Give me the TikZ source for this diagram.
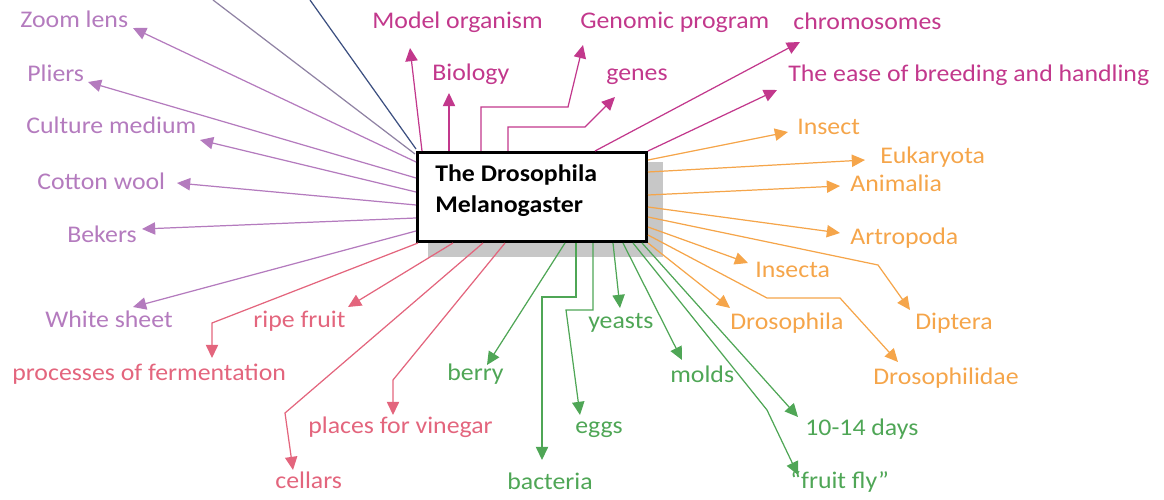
\documentclass[tikz,border=0pt]{standalone}
\usepackage{fontspec}
\setmainfont{Carlito}[FakeStretch=1.08]
\usetikzlibrary{arrows.meta}
\definecolor{lilac}{HTML}{B47BBE}
\definecolor{plum}{HTML}{C2388C}
\definecolor{apricot}{HTML}{F5A54A}
\definecolor{rose}{HTML}{E3657D}
\definecolor{leaf}{HTML}{4FA656}
\definecolor{navy}{HTML}{3C4F80}
\definecolor{haze}{HTML}{8F82A3}
\tikzset{
    lbl/.style={anchor=base west, inner sep=0pt, font=\fontsize{13.6}{16}\selectfont},
    ttl/.style={lbl, font=\fontsize{13.6}{16}\selectfont\bfseries},
    arr/.style={line width=0.7pt, -{Triangle[length=7.5pt,width=7pt]}},
}

\begin{document}
\begin{tikzpicture}[x=0.02cm, y=-0.02cm]
    \useasboundingbox (0,0) rectangle (1164,500);
    % centre box
    \fill[black!22] (428,162) rectangle (663,257);
    \node[draw, line width=1.7pt, fill=white, minimum width=4.58cm, minimum height=1.78cm, inner sep=0pt] (box) at (532,197) {};
    \node[ttl] (title) at (435,182) {The Drosophila};
    \node[ttl] (title2) at (435,213) {Melanogaster};

    % two lines leaving the page
    \coordinate (hz) at (213,0);
    \coordinate (hz-e) at (415,154);
    \coordinate (nv) at (310,0);
    \coordinate (nv-e) at (416,149);
    \draw[haze, line width=0.7pt] (hz) -- (hz-e);
    \draw[navy, line width=0.7pt] (nv) -- (nv-e);

    % straight arrows: name/text/label x/label y/start x/start y/tip x/tip y
    \foreach \n/\t/\lx/\ly/\sx/\sy/\tx/\ty in {
        zoom/Zoom lens/20/28/416/162/133/28,
        pliers/Pliers/27/82/416/178/88/82,
        culture/Culture medium/26/133/416/192/200/140,
        cotton/Cotton wool/37/190/416/205/177/183,
        bekers/Bekers/67/242/416/218/142/229,
        sheet/White sheet/45/327/416/231/133/307}{
        \node[lbl, lilac] (\n) at (\lx,\ly) {\t};
        \coordinate (\n-s) at (\sx,\sy);
        \coordinate (\n-t) at (\tx,\ty);
        \draw[arr, lilac] (\n-s) -- (\n-t);
    }
    \foreach \n/\t/\lx/\ly/\sx/\sy/\tx/\ty in {
        model/Model organism/372/29/422/151/410/48,
        bio/Biology/432/81/449/151/449/93,
        chromo/chromosomes/793/30/595/151/800/42,
        ease/The ease of breeding and handling/788/82/648/151/777/90}{
        \node[lbl, plum] (\n) at (\lx,\ly) {\t};
        \coordinate (\n-s) at (\sx,\sy);
        \coordinate (\n-t) at (\tx,\ty);
        \draw[arr, plum] (\n-s) -- (\n-t);
    }
    \foreach \n/\t/\lx/\ly/\sx/\sy/\tx/\ty in {
        insect/Insect/797/135/648/160/788/132,
        euk/Eukaryota/880/164/648/172/865/160,
        anim/Animalia/850/192/648/195/840/186,
        artro/Artropoda/850/244/648/207/840/233,
        insecta/Insecta/755/277/648/227/748/263,
        droso/Drosophila/730/329/648/243/730/308}{
        \node[lbl, apricot] (\n) at (\lx,\ly) {\t};
        \coordinate (\n-s) at (\sx,\sy);
        \coordinate (\n-t) at (\tx,\ty);
        \draw[arr, apricot] (\n-s) -- (\n-t);
    }
    \foreach \n/\t/\lx/\ly/\sx/\sy/\tx/\ty in {
        ripe/ripe fruit/253/327/453/243/348/307}{
        \node[lbl, rose] (\n) at (\lx,\ly) {\t};
        \coordinate (\n-s) at (\sx,\sy);
        \coordinate (\n-t) at (\tx,\ty);
        \draw[arr, rose] (\n-s) -- (\n-t);
    }
    \foreach \n/\t/\lx/\ly/\sx/\sy/\tx/\ty in {
        berry/berry/447/380/565/243/487/365,
        yeasts/yeasts/588/328/613/243/620/308,
        molds/molds/670/382/623/243/682/360,
        days/10-14 days/805/435/642/243/798/417}{
        \node[lbl, leaf] (\n) at (\lx,\ly) {\t};
        \coordinate (\n-s) at (\sx,\sy);
        \coordinate (\n-t) at (\tx,\ty);
        \draw[arr, leaf] (\n-s) -- (\n-t);
    }

    % bent arrows
    \node[lbl, plum] (genomic) at (580,29) {Genomic program};
    \node[lbl, plum] (genes) at (606,81) {genes};
    \coordinate (genomic-s) at (481,151);
    \coordinate (genomic-t) at (583,45);
    \coordinate (genes-s) at (508,151);
    \coordinate (genes-t) at (615,97);
    \draw[arr, plum] (genomic-s) -- (481,107) -- (568,107) -- (genomic-t);
    \draw[arr, plum] (genes-s) -- (508,127) -- (585,127) -- (genes-t);

    \node[lbl, apricot] (diptera) at (915,329) {Diptera};
    \node[lbl, apricot] (philidae) at (873,384) {Drosophilidae};
    \coordinate (diptera-s) at (648,217);
    \coordinate (diptera-t) at (910,310);
    \coordinate (philidae-s) at (648,235);
    \coordinate (philidae-t) at (898,362);
    \draw[arr, apricot] (diptera-s) -- (878,265) -- (diptera-t);
    \draw[arr, apricot] (philidae-s) -- (767,298) -- (840,298) -- (philidae-t);

    \node[lbl, rose] (ferment) at (12,380) {processes of fermentation};
    \node[lbl, rose] (cellars) at (275,488) {cellars};
    \node[lbl, rose] (vinegar) at (308,433) {places for vinegar};
    \coordinate (ferment-s) at (418,243);
    \coordinate (ferment-t) at (212,358);
    \coordinate (cellars-s) at (483,243);
    \coordinate (cellars-t) at (293,470);
    \coordinate (vinegar-s) at (505,243);
    \coordinate (vinegar-t) at (393,415);
    \draw[arr, rose] (ferment-s) -- (212,323) -- (ferment-t);
    \draw[arr, rose] (cellars-s) -- (285,413) -- (cellars-t);
    \draw[arr, rose] (vinegar-s) -- (393,380) -- (vinegar-t);

    \node[lbl, leaf] (bacteria) at (507,489) {bacteria};
    \node[lbl, leaf] (eggs) at (575,433) {eggs};
    \node[lbl, leaf] (fly) at (790,488) {“fruit fly”};
    \coordinate (bacteria-s) at (576,243);
    \coordinate (bacteria-t) at (542,460);
    \coordinate (eggs-s) at (593,243);
    \coordinate (eggs-t) at (580,415);
    \coordinate (fly-s) at (633,243);
    \coordinate (fly-t) at (798,475);
    \draw[arr, leaf] (bacteria-s) -- (576,297) -- (542,297) -- (bacteria-t);
    \draw[arr, leaf] (eggs-s) -- (593,310) -- (566,310) -- (eggs-t);
    \draw[arr, leaf] (fly-s) -- (767,410) -- (fly-t);
\end{tikzpicture}
\end{document}
